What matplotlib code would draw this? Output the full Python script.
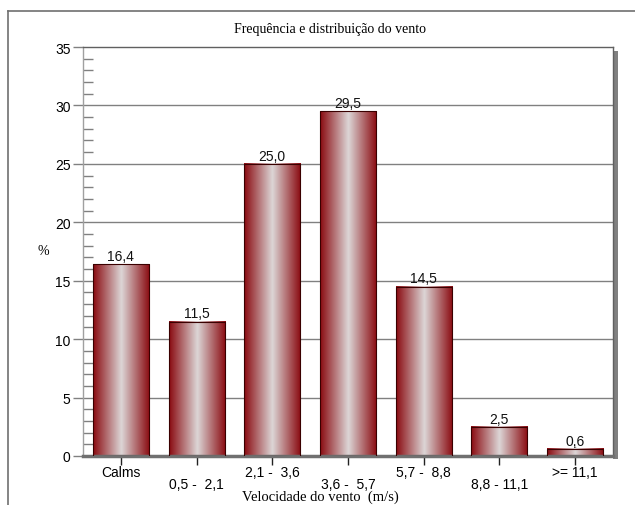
import numpy as np
import matplotlib
matplotlib.use("Agg")
import matplotlib.pyplot as plt
from matplotlib.colors import LinearSegmentedColormap
from matplotlib.patches import Rectangle
from matplotlib.ticker import MultipleLocator
from matplotlib.lines import Line2D

categories = ["Calms", "0,5 -  2,1", "2,1 -  3,6", "3,6 -  5,7",
              "5,7 -  8,8", "8,8 - 11,1", ">= 11,1"]
values = [16.4, 11.5, 25.0, 29.5, 14.5, 2.5, 0.6]
value_labels = ["16,4", "11,5", "25,0", "29,5", "14,5", "2,5", "0,6"]

W, H = 635, 506
fig = plt.figure(figsize=(W / 100, H / 100), dpi=100)

# outer frame (left and top edges)
fig.add_artist(Line2D([8 / W, 8 / W], [0, 1 - 12 / H], color="#707070", lw=1.2))
fig.add_artist(Line2D([8 / W, 1], [1 - 12 / H, 1 - 12 / H], color="#707070", lw=1.2))

left, right, bottom, top = 83, 613, 457, 48
ax = fig.add_axes([left / W, 1 - bottom / H, (right - left) / W, (bottom - top) / H])

# drop shadow on right side of the plot area
fig.add_artist(Rectangle((right / W, 1 - 460 / H), 5 / W, (460 - 52) / H,
                         facecolor="#808080", edgecolor="none", zorder=0))

# horizontal grid
for y in range(5, 35, 5):
    ax.axhline(y, color="#808080", lw=1.0, zorder=1)

# gradient bars
cmap = LinearSegmentedColormap.from_list(
    "bar", [(0.0, "#8a0a10"), (0.5, "#dcd6d6"), (1.0, "#8a0a10")])
grad = np.linspace(0, 1, 256).reshape(1, -1)
bw = 0.74
x = np.arange(len(categories))
for xi, v, lab in zip(x, values, value_labels):
    ax.imshow(grad, cmap=cmap, aspect="auto",
              extent=(xi - bw / 2, xi + bw / 2, 0, v), zorder=2, interpolation="bilinear")
    ax.add_patch(Rectangle((xi - bw / 2, 0), bw, v, facecolor="none",
                           edgecolor="#3a0000", lw=0.8, zorder=3))
    ax.text(xi, v + 0.1, lab, ha="center", va="bottom", fontsize=10,
            family="Liberation Sans", color="#111111", zorder=4)

ax.set_xlim(-0.5, len(categories) - 0.5)
ax.set_ylim(0, 35)

# spines
for s in ("top", "right"):
    ax.spines[s].set_color("#606060")
    ax.spines[s].set_linewidth(1.0)
ax.spines["left"].set_color("#a0a0a0")
ax.spines["left"].set_linewidth(1.0)
ax.spines["bottom"].set_color("#707070")
ax.spines["bottom"].set_linewidth(2.5)

# y ticks
ax.yaxis.set_major_locator(MultipleLocator(5))
ax.yaxis.set_minor_locator(MultipleLocator(1))
ax.tick_params(axis="y", which="major", direction="out", length=7, width=1,
               color="#808080", labelsize=10, pad=2)
ax.tick_params(axis="y", which="minor", direction="in", length=7, width=1,
               color="#808080")
for t in ax.get_yticklabels():
    t.set_family("Liberation Sans")

# x ticks with staggered labels
ax.set_xticks(x)
ax.set_xticklabels([])
ax.tick_params(axis="x", which="major", direction="inout", length=13, width=1,
               color="#222222")
for xi, lab in zip(x, categories):
    dy = -6.5 if xi % 2 == 0 else -15
    ax.annotate(lab, (xi, 0), xytext=(0, dy), textcoords="offset points",
                ha="center", va="top", fontsize=10, family="Liberation Sans",
                annotation_clip=False)

fig.text(330 / W, 1 - 29 / H, "Frequência e distribuição do vento",
         ha="center", va="center", fontsize=10, family="Liberation Serif")
fig.text(320 / W, 1 - 501 / H, "Velocidade do vento  (m/s)",
         ha="center", va="baseline", fontsize=10.5, family="Liberation Serif")
fig.text(43 / W, 1 - 252 / H, "%", ha="center", va="center", fontsize=10,
         family="Liberation Serif")

fig.savefig("out.png", dpi=100)
